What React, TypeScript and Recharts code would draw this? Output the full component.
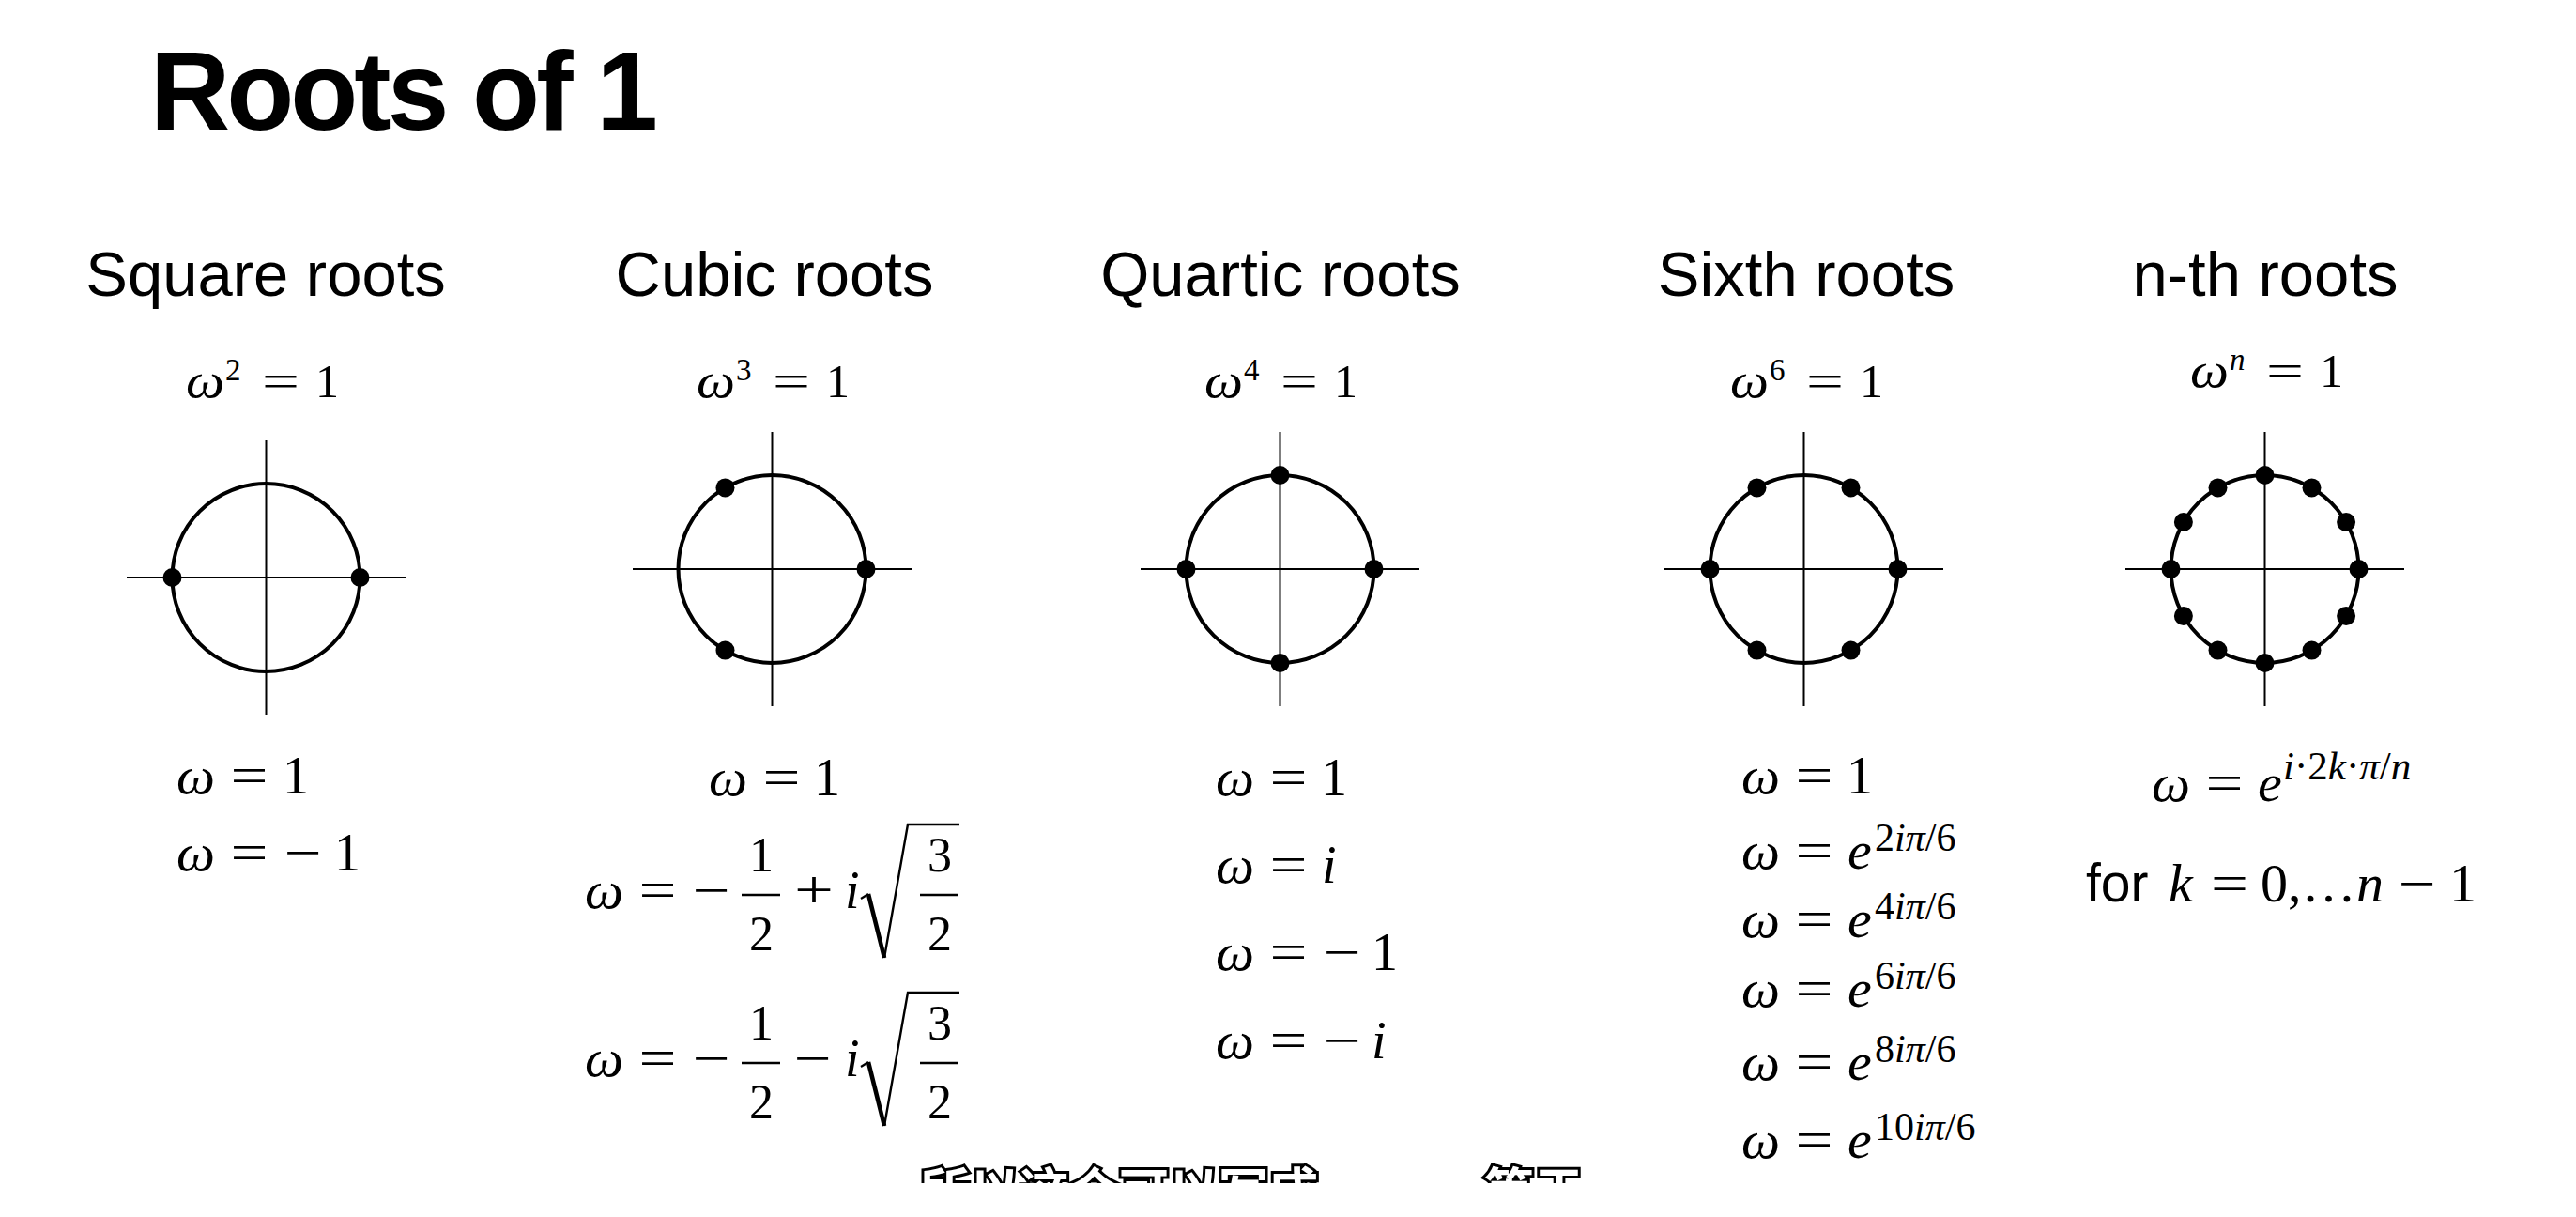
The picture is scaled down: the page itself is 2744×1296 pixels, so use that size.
import React from "react";
import { ScatterChart, Scatter, XAxis, YAxis, ReferenceLine, ReferenceDot } from "recharts";

// ---- data ----
const rootGroups = ["Square roots", "Cubic roots", "Quartic roots", "Sixth roots", "n-th roots"];
const exponents = ["2", "3", "4", "6", "n"];

const squareRoots = [
  { x: 1, y: 0 },
  { x: -1, y: 0 },
];
const cubicRoots = [
  { x: 1, y: 0 },
  { x: -0.5, y: 0.866 },
  { x: -0.5, y: -0.866 },
];
const quarticRoots = [
  { x: 1, y: 0 },
  { x: 0, y: 1 },
  { x: -1, y: 0 },
  { x: 0, y: -1 },
];
const sixthRoots = [
  { x: 1, y: 0 },
  { x: 0.5, y: 0.866 },
  { x: -0.5, y: 0.866 },
  { x: -1, y: 0 },
  { x: -0.5, y: -0.866 },
  { x: 0.5, y: -0.866 },
];
const nthRoots = [
  { x: 1, y: 0 },
  { x: 0.866, y: 0.5 },
  { x: 0.5, y: 0.866 },
  { x: 0, y: 1 },
  { x: -0.5, y: 0.866 },
  { x: -0.866, y: 0.5 },
  { x: -1, y: 0 },
  { x: -0.866, y: -0.5 },
  { x: -0.5, y: -0.866 },
  { x: 0, y: -1 },
  { x: 0.5, y: -0.866 },
  { x: 0.866, y: -0.5 },
];
const rootSets = [squareRoots, cubicRoots, quarticRoots, sixthRoots, nthRoots];
const sixthExponents = ["2", "4", "6", "8", "10"];

// ---- layout ----
const SERIF = "'Liberation Serif', 'Times New Roman', 'DejaVu Serif', serif";
const SANS = "'Liberation Sans', Arial, Helvetica, sans-serif";
const CJK = "'Noto Sans CJK SC', 'Noto Sans CJK TC', sans-serif";

const R_PX = 100;
const XD = 1.485;
const YD = 1.46;
const PW = 2 * XD * R_PX;
const PH = 2 * YD * R_PX;

const plotCenters = [
  [283, 615],
  [822.5, 606],
  [1363, 606],
  [1921.5, 606],
  [2412, 606],
];
const headerX = [283, 825, 1364, 1924, 2413];
const topEqX = [198, 742, 1283, 1843, 2333];
const topEqY = [423, 423, 423, 423, 412];

const RootDot = (p: any) => <circle cx={p.cx} cy={p.cy} r={10} fill="#000" />;

function RootPlot({ cx, cy, data }: { cx: number; cy: number; data: { x: number; y: number }[] }) {
  return (
    <div style={{ position: "absolute", left: cx - PW / 2, top: cy - PH / 2, width: PW, height: PH }}>
      <ScatterChart width={PW} height={PH} margin={{ top: 0, right: 0, bottom: 0, left: 0 }}>
        <XAxis type="number" dataKey="x" domain={[-XD, XD]} allowDataOverflow hide />
        <YAxis type="number" dataKey="y" domain={[-YD, YD]} allowDataOverflow hide />
        <ReferenceLine x={0} stroke="#000" strokeWidth={2} />
        <ReferenceLine y={0} stroke="#000" strokeWidth={2} />
        <ReferenceDot x={0} y={0} r={R_PX} fill="none" stroke="#000" strokeWidth={4} />
        <Scatter data={data} shape={RootDot} isAnimationActive={false} />
      </ScatterChart>
    </div>
  );
}

function Tx({
  x, y, children, it = false, fs = 56, len, anchor = "start", family = SERIF, weight = "normal",
}: any) {
  return (
    <text
      x={x}
      y={y}
      fontSize={fs}
      fontFamily={family}
      fontStyle={it ? "italic" : "normal"}
      fontWeight={weight}
      textAnchor={anchor}
      textLength={len}
      lengthAdjust={len ? "spacingAndGlyphs" : undefined}
      fill="#000"
    >
      {children}
    </text>
  );
}

// ω = ... row start
function Lhs({ x0, y }: { x0: number; y: number }) {
  return (
    <>
      <Tx x={x0 - 2} y={y} it fs={58} len={41}>ω</Tx>
      <Tx x={x0 + 58 - 2.4} y={y} len={40}>=</Tx>
    </>
  );
}

function Minus({ vx, y, fs = 56 }: any) {
  return <Tx x={vx - 2.4} y={y} len={40} fs={fs}>−</Tx>;
}

function CubicLine({ axis, sign }: { axis: number; sign: "+" | "−" }) {
  const base = axis + 14;
  const top = axis - 75;
  const bottom = axis + 67;
  return (
    <>
      <Lhs x0={625} y={base} />
      <Minus vx={740} y={base} />
      <line x1={790} x2={831} y1={axis} y2={axis} stroke="#000" strokeWidth={2.6} />
      <Tx x={811} y={axis - 25} fs={52} anchor="middle">1</Tx>
      <Tx x={811} y={axis + 59} fs={52} anchor="middle">2</Tx>
      {sign === "+" ? (
        <Tx x={846} y={base} len={42}>+</Tx>
      ) : (
        <Minus vx={848} y={base} />
      )}
      <Tx x={900} y={base} it>i</Tx>
      <polyline
        points={`917,${axis + 4} 925,${axis - 1}`}
        fill="none"
        stroke="#000"
        strokeWidth={2.2}
      />
      <polyline
        points={`925,${axis - 1} 942,${bottom}`}
        fill="none"
        stroke="#000"
        strokeWidth={4.6}
      />
      <polyline
        points={`942,${bottom} 967,${top} 1022,${top}`}
        fill="none"
        stroke="#000"
        strokeWidth={2.4}
        strokeLinejoin="miter"
      />
      <line x1={980} x2={1021} y1={axis} y2={axis} stroke="#000" strokeWidth={2.6} />
      <Tx x={1001} y={axis - 25} fs={52} anchor="middle">3</Tx>
      <Tx x={1001} y={axis + 59} fs={52} anchor="middle">2</Tx>
    </>
  );
}

function SixthRow({ y, exp }: { y: number; exp: string }) {
  return (
    <>
      <Lhs x0={1857} y={y} />
      <Tx x={1968} y={y} it fs={58}>e</Tx>
      <text x={1997} y={y - 19} fontSize={42} fontFamily={SERIF} fill="#000">
        <tspan>{exp}</tspan>
        <tspan fontStyle="italic">iπ</tspan>
        <tspan>/6</tspan>
      </text>
    </>
  );
}

export default function App() {
  const sixthY = [925, 998, 1072, 1150, 1233];
  return (
    <div
      style={{
        position: "absolute",
        left: 0,
        top: 0,
        width: 2744,
        height: 1296,
        background: "#fff",
        overflow: "hidden",
      }}
    >
      <svg width={2744} height={1296} style={{ position: "absolute", left: 0, top: 0 }}>
        <defs>
          <clipPath id="subcut">
            <rect x={0} y={0} width={2744} height={1260} />
          </clipPath>
        </defs>

        {/* title */}
        <Tx x={160} y={138} fs={118} family={SANS} weight="bold">
          <tspan letterSpacing={-4}>Roots of 1</tspan>
        </Tx>

        {/* headers */}
        {rootGroups.map((g, i) => (
          <Tx key={g} x={headerX[i]} y={315} fs={67} family={SANS} anchor="middle">
            {g}
          </Tx>
        ))}

        {/* top equations ω^k = 1 */}
        {exponents.map((e, i) => {
          const x = topEqX[i];
          const y = topEqY[i];
          return (
            <g key={e}>
              <Tx x={x} y={y} fs={52} it len={41}>ω</Tx>
              <Tx x={x + 42} y={y - 18} fs={33} it={e === "n"}>{e}</Tx>
              <Tx x={x + 81} y={y} fs={50} len={40}>=</Tx>
              <Tx x={x + 138} y={y} fs={50}>1</Tx>
            </g>
          );
        })}

        {/* square roots */}
        <Lhs x0={190} y={845} />
        <Tx x={301} y={845}>1</Tx>
        <Lhs x0={190} y={927} />
        <Minus vx={305} y={927} />
        <Tx x={356} y={927}>1</Tx>

        {/* cubic roots */}
        <Lhs x0={757} y={847} />
        <Tx x={867} y={847}>1</Tx>
        <CubicLine axis={953} sign="+" />
        <CubicLine axis={1132} sign="−" />

        {/* quartic roots */}
        <Lhs x0={1297} y={847} />
        <Tx x={1407} y={847}>1</Tx>
        <Lhs x0={1297} y={940} />
        <Tx x={1408} y={940} it>i</Tx>
        <Lhs x0={1297} y={1033} />
        <Minus vx={1412} y={1033} />
        <Tx x={1461} y={1033}>1</Tx>
        <Lhs x0={1297} y={1127} />
        <Minus vx={1412} y={1127} />
        <Tx x={1461} y={1127} it>i</Tx>

        {/* sixth roots */}
        <Lhs x0={1857} y={845} />
        <Tx x={1967} y={845}>1</Tx>
        {sixthExponents.map((e, i) => (
          <SixthRow key={e} y={sixthY[i]} exp={e} />
        ))}

        {/* n-th roots */}
        <Lhs x0={2294} y={853} />
        <Tx x={2405} y={853} it fs={58}>e</Tx>
        <text x={2432} y={830} fontSize={43} fontFamily={SERIF} fill="#000">
          <tspan fontStyle="italic">i</tspan>
          <tspan>·2</tspan>
          <tspan fontStyle="italic">k</tspan>
          <tspan>·</tspan>
          <tspan fontStyle="italic">π</tspan>
          <tspan>/</tspan>
          <tspan fontStyle="italic">n</tspan>
        </text>
        <Tx x={2222} y={960} fs={57} family={SANS}>for</Tx>
        <Tx x={2310} y={960} it fs={58}>k</Tx>
        <Tx x={2355} y={960} len={40}>=</Tx>
        <Tx x={2408} y={960} fs={58}>0,…</Tx>
        <Tx x={2510} y={960} it fs={58}>n</Tx>
        <Minus vx={2557} y={960} />
        <Tx x={2609} y={960} fs={58}>1</Tx>

        {/* cut-off subtitle */}
        <g clipPath="url(#subcut)">
          <text
            x={980}
            y={1288}
            fontSize={53}
            fontFamily={CJK}
            fontWeight={700}
            fill="#fff"
            stroke="#000"
            strokeWidth={6}
            paintOrder="stroke"
          >
            所以这个可以写成
          </text>
          <text
            x={1581}
            y={1288}
            fontSize={53}
            fontFamily={CJK}
            fontWeight={700}
            fill="#fff"
            stroke="#000"
            strokeWidth={6}
            paintOrder="stroke"
          >
            等于
          </text>
        </g>
      </svg>

      {rootSets.map((d, i) => (
        <RootPlot key={i} cx={plotCenters[i][0]} cy={plotCenters[i][1]} data={d} />
      ))}
    </div>
  );
}
